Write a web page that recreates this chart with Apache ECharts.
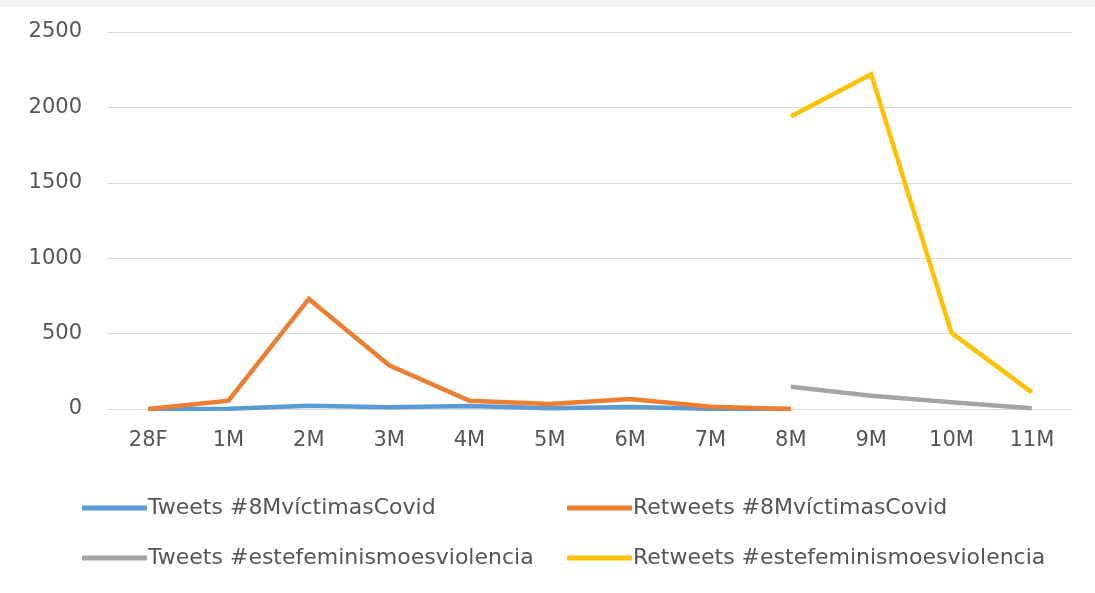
<!DOCTYPE html>
<html><head><meta charset="utf-8">
<script src="https://cdn.jsdelivr.net/npm/echarts@6/dist/echarts.min.js"></script>
<style>html,body{margin:0;padding:0;background:#fff}#c{width:1095px;height:593px}</style>
</head><body><div id="c"></div>
<script>
const categories = ['28F','1M','2M','3M','4M','5M','6M','7M','8M','9M','10M','11M'];
const tweets8M = [0, 2, 22, 11, 20, 5, 13, 2, 0, null, null, null];
const retweets8M = [0, 55, 730, 290, 55, 33, 66, 15, 0, null, null, null];
const tweetsEste = [null, null, null, null, null, null, null, null, 148, 88, 44, 5];
const retweetsEste = [null, null, null, null, null, null, null, null, 1940, 2220, 505, 110];
const seriesNames = ['Tweets #8MvíctimasCovid','Retweets #8MvíctimasCovid','Tweets #estefeminismoesviolencia','Retweets #estefeminismoesviolencia'];
const colors = ['#5B9BD5','#ED7D31','#A5A5A5','#FFC000'];
const seriesData = [tweets8M, retweets8M, tweetsEste, retweetsEste];

const font = 'DejaVu Sans';
const chart = echarts.init(document.getElementById('c'));
const legendPos = [[77,492],[562,492],[77,542],[562,542]];
chart.setOption({
  animation:false,
  backgroundColor:'#fff',
  graphic:[{type:'rect',shape:{x:0,y:0,width:1095,height:7},style:{fill:'#f3f3f3'}}],
  grid:{left:108,right:23,top:32,bottom:184},
  xAxis:{type:'category',data:categories,boundaryGap:true,
    axisLine:{show:true,lineStyle:{color:'#d9d9d9'}},axisTick:{show:false},
    axisLabel:{color:'#555',fontSize:21,fontFamily:font,margin:21}},
  yAxis:{type:'value',min:0,max:2500,interval:500,
    axisLine:{show:false},axisTick:{show:false},
    splitLine:{lineStyle:{color:'#d9d9d9',width:1}},
    axisLabel:{color:'#555',fontSize:21,fontFamily:font,margin:26,formatter:v=>String(v)}},
  legend: seriesNames.map((n,i)=>({
    data:[n],left:legendPos[i][0],top:legendPos[i][1],
    icon:'rect',itemWidth:65,itemHeight:5,itemGap:4,
    textStyle:{color:'#555',fontSize:22,fontFamily:font,padding:[0,0,0,-4]}
  })),
  series: seriesNames.map((n,i)=>({
    name:n,type:'line',data:seriesData[i],showSymbol:false,symbol:'none',
    connectNulls:false,
    lineStyle:{color:colors[i],width:4.5,join:'miter'},itemStyle:{color:colors[i]}
  }))
});
</script></body></html>
